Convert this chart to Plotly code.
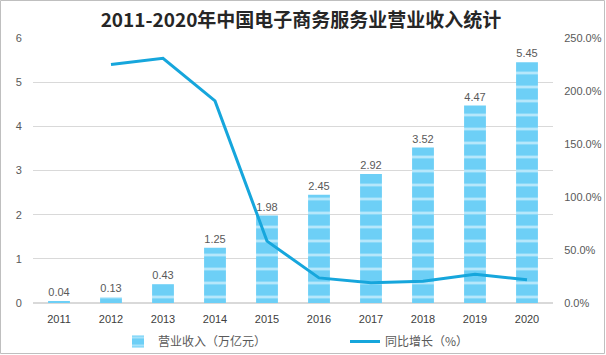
import plotly.graph_objects as go

years = ["2011", "2012", "2013", "2014", "2015", "2016", "2017", "2018", "2019", "2020"]
revenue = [0.04, 0.13, 0.43, 1.25, 1.98, 2.45, 2.92, 3.52, 4.47, 5.45]
growth_years = ["2012", "2013", "2014", "2015", "2016", "2017", "2018", "2019", "2020"]
growth = [225.0, 230.8, 190.7, 58.4, 23.7, 19.2, 20.5, 27.0, 21.9]
left_ticks = [0, 1, 2, 3, 4, 5, 6]
right_ticks = [0, 50, 100, 150, 200, 250]

W, H = 606, 355
ML, MR, MT, MB = 33, 53, 38, 52
PW, PH = W - ML - MR, H - MT - MB

font_cn = "Noto Sans CJK SC, Liberation Sans, sans-serif"
gray = "#595959"

fig = go.Figure()
fig.add_trace(go.Bar(
    x=years, y=revenue, name="营业收入（万亿元）",
    marker=dict(color="#6DCFF6",
                pattern=dict(shape="-", size=14, solidity=0.2,
                             fgcolor="#FFFFFF", bgcolor="#6DCFF6"),
                line=dict(width=0)),
    text=[f"{v:.2f}" for v in revenue], textposition="outside",
    textfont=dict(size=11, color=gray, family="Liberation Sans, sans-serif"),
    cliponaxis=False,
))
fig.add_trace(go.Scatter(
    x=growth_years, y=growth, name="同比增长（%）", yaxis="y2",
    mode="lines", line=dict(color="#16A6DC", width=3),
))

def px2x(px):
    return (px - ML) / PW

def py2y(py):
    return (H - MB - py) / PH

fig.add_shape(type="rect", xref="paper", yref="paper",
              x0=px2x(0.5), x1=px2x(W - 1.5), y0=py2y(H - 1.5), y1=py2y(0.5),
              line=dict(color="#BFBFBF", width=1), layer="below")

fig.update_layout(
    width=W, height=H,
    margin=dict(l=ML, r=MR, t=MT, b=MB, autoexpand=False),
    paper_bgcolor="white", plot_bgcolor="white",
    title=dict(text="<b>2011-2020年中国电子商务服务业营业收入统计</b>",
               x=301 / W, xref="container", y=1 - 20 / H, yanchor="middle", xanchor="center",
               font=dict(size=19, color="#262626", family=font_cn)),
    bargap=0.58,
    xaxis=dict(type="category", showgrid=False, showline=False, zeroline=False,
               automargin=False,
               ticks="outside", ticklen=6, tickcolor="rgba(0,0,0,0)",
               tickfont=dict(size=11, color="#404040", family="Liberation Sans, sans-serif")),
    yaxis=dict(range=[0, 6], tickvals=left_ticks, showgrid=True, gridcolor="#D9D9D9",
               gridwidth=1, zeroline=True, zerolinecolor="#D9D9D9", showline=False,
               automargin=False,
               ticks="outside", ticklen=8, tickcolor="rgba(0,0,0,0)",
               tickfont=dict(size=11, color=gray, family="Liberation Sans, sans-serif")),
    yaxis2=dict(range=[0, 250], tickvals=right_ticks,
                ticktext=[f"{v:.1f}%" for v in right_ticks],
                overlaying="y", side="right", showgrid=False, zeroline=False, showline=False,
                automargin=False,
                ticks="outside", ticklen=8, tickcolor="rgba(0,0,0,0)",
                tickfont=dict(size=11, color=gray, family="Liberation Sans, sans-serif")),
    legend=dict(orientation="h", x=px2x(118), xanchor="left", y=py2y(327), yanchor="top",
                entrywidth=182, entrywidthmode="pixels",
                font=dict(size=12, color=gray, family=font_cn),
                bgcolor="rgba(0,0,0,0)"),
    showlegend=True,
)

fig.write_html("out.html", config={"displayModeBar": False},
               post_script="document.body.style.margin='0';document.body.style.overflow='hidden';")
